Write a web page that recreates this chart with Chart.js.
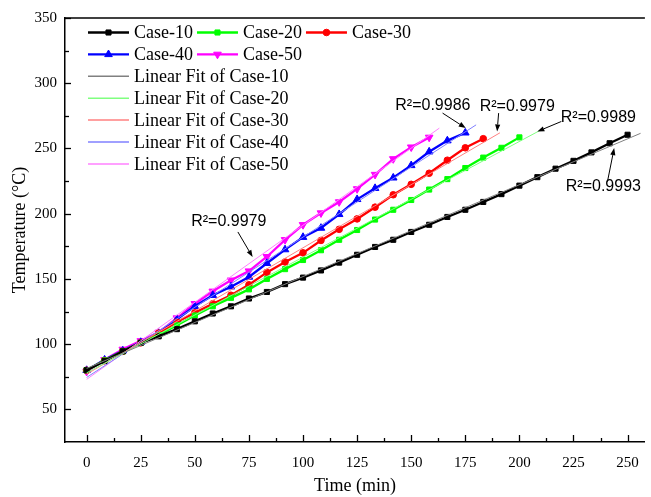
<!DOCTYPE html>
<html><head><meta charset="utf-8">
<script src="https://cdn.jsdelivr.net/npm/chart.js@4.4.1/dist/chart.umd.min.js"></script>
<style>html,body{margin:0;padding:0;background:#fff;overflow:hidden}#wrap{width:651px;height:497px;position:relative}</style>
</head><body><div id="wrap"><canvas id="c" width="651" height="497"></canvas></div>
<script>
// ---- data ----
const times = [0, 8.3, 16.7, 25, 33.3, 41.7, 50, 58.3, 66.7, 75, 83.3, 91.7, 100, 108.3, 116.7, 125, 133.3, 141.7, 150, 158.3, 166.7, 175, 183.3, 191.7, 200, 208.3, 216.7, 225, 233.3, 241.7, 250];
const case10 = [80, 87, 94.5, 101, 106, 111.5, 117.5, 123.5, 129, 135, 140, 146, 151, 156.5, 162.5, 168.5, 174.5, 180, 186, 191.5, 197.5, 203, 209, 215, 221.5, 228, 234.5, 240.5, 247, 254, 260.5];
const case20 = [80, 87.5, 94.5, 101, 107, 114.5, 122, 129, 135.5, 142, 150, 157.5, 164.5, 172, 180, 187.5, 195.5, 203, 210.5, 218.5, 226.5, 235, 243, 250.5, 258.5];
const case30 = [80, 87.5, 94.5, 101, 108.5, 117, 124, 131, 137.5, 145.5, 155, 163, 170, 179.5, 188, 196, 205, 214.5, 222.5, 231, 241, 250.5, 257.5];
const case40 = [80, 88, 95, 101.5, 108.5, 119, 129, 137.5, 144, 151.5, 162, 172.5, 182, 189, 199.5, 211, 219.5, 227.5, 237, 247.5, 256, 262];
const case50 = [79, 88, 96, 102.5, 109, 120, 131, 140.5, 149, 156, 167, 180, 191.5, 200.5, 209, 219, 230, 242, 251, 258.5];
const seriesNames = ['Case-10', 'Case-20', 'Case-30', 'Case-40', 'Case-50'];
const fitNames = ['Linear Fit of Case-10', 'Linear Fit of Case-20', 'Linear Fit of Case-30', 'Linear Fit of Case-40', 'Linear Fit of Case-50'];
const fitStartTime = [0, 0, 0, 0, 0];
const fitStartTemp = [81.4, 78, 77, 74.5, 73];
const fitEndTime = [256, 209.5, 191, 180, 163];
const fitEndTemp = [261.6, 263.8, 262, 268.1, 265.6];
const r2Labels = ['R²=0.9979', 'R²=0.9986', 'R²=0.9979', 'R²=0.9989', 'R²=0.9993'];
const xTickLabels = [0, 25, 50, 75, 100, 125, 150, 175, 200, 225, 250];
const yTickLabels = [50, 100, 150, 200, 250, 300, 350];

// ---- annotation placement (data coordinates) ----
const annotationPos = [
  {tx: 65.7, ty: 193.7, from: [69.9, 186], tip: [76.7, 166.8]},
  {tx: 160, ty: 282.8, from: [164.5, 277.1], tip: [175.2, 265.6]},
  {tx: 199, ty: 282, from: [190.4, 277.1], tip: [189.7, 263]},
  {tx: 236.5, ty: 273.4, from: [219.4, 270.7], tip: [208.3, 263]},
  {tx: 238.8, ty: 220.5, from: [240.7, 224.6], tip: [243.8, 250.3]}
];

// ---- styles ----
const colors = ['#000000', '#00ff00', '#ff0000', '#0000ff', '#ff00ff'];
const fitColors = ['#808080', '#80ff80', '#ff8080', '#8080ff', '#ff80ff'];
const markers = [
  {ps: 'rect', r: 3.6, rot: 0},
  {ps: 'rect', r: 3.6, rot: 0},
  {ps: 'circle', r: 3.3, rot: 0},
  {ps: 'triangle', r: 4.4, rot: 0},
  {ps: 'triangle', r: 4.4, rot: 180}
];
const seriesValues = [case10, case20, case30, case40, case50];
const SERIF = '"Liberation Serif", "Times New Roman", serif';
const SANS = '"Liberation Sans", Arial, sans-serif';

const datasets = [];
seriesValues.forEach((vals, i) => {
  datasets.push({
    label: seriesNames[i],
    data: vals.map((v, j) => ({x: times[j], y: v})),
    borderColor: colors[i], backgroundColor: colors[i],
    borderWidth: 2.3, pointStyle: markers[i].ps, pointRadius: markers[i].r,
    pointRotation: markers[i].rot, pointBorderWidth: 1,
    pointBorderColor: colors[i], pointBackgroundColor: colors[i],
    order: 1, tension: 0
  });
});
fitNames.forEach((n, i) => {
  datasets.push({
    label: n,
    data: [{x: fitStartTime[i], y: fitStartTemp[i]}, {x: fitEndTime[i], y: fitEndTemp[i]}],
    borderColor: fitColors[i], backgroundColor: fitColors[i],
    borderWidth: 1, pointRadius: 0, order: 0
  });
});

function drawMarker(ctx, m, color, cx, cy) {
  ctx.save();
  ctx.fillStyle = color; ctx.strokeStyle = color; ctx.lineWidth = 1;
  if (Chart.helpers && Chart.helpers.drawPoint) {
    Chart.helpers.drawPoint(ctx, {pointStyle: m.ps, rotation: m.rot, radius: m.r, borderWidth: 1}, cx, cy);
  }
  ctx.restore();
}

const decorPlugin = {
  id: 'decor',
  afterDraw(chart) {
    const {ctx, chartArea: a, scales: {x, y}} = chart;
    ctx.save();
    // top frame line
    ctx.strokeStyle = '#000';
    ctx.lineWidth = 1.5;
    ctx.beginPath(); ctx.moveTo(a.left, a.top); ctx.lineTo(a.right, a.top); ctx.stroke();
    // inward ticks on x axis
    ctx.lineWidth = 1.3;
    const xs = [];
    xTickLabels.forEach((v, i) => {
      xs.push([v, 7]);
      if (i < xTickLabels.length - 1) xs.push([(v + xTickLabels[i + 1]) / 2, 4]);
    });
    xs.forEach(([v, len]) => {
      const px = Math.round(x.getPixelForValue(v)) + 0.5;
      ctx.beginPath(); ctx.moveTo(px, a.bottom); ctx.lineTo(px, a.bottom - len); ctx.stroke();
    });
    const ys = [];
    yTickLabels.forEach((v, i) => {
      ys.push([v, 6]);
      if (i < yTickLabels.length - 1) ys.push([(v + yTickLabels[i + 1]) / 2, 4]);
    });
    ys.forEach(([v, len]) => {
      const py = Math.round(y.getPixelForValue(v)) + 0.5;
      ctx.beginPath(); ctx.moveTo(a.left, py); ctx.lineTo(a.left + len, py); ctx.stroke();
    });

    // legend
    ctx.font = '18px ' + SERIF;
    ctx.textBaseline = 'middle';
    ctx.fillStyle = '#000';
    const lx0 = 88, sampleW = 41, gapT = 5, gapE = 4, rowH = 21.9, ry0 = 32.5;
    const rows = [[0, 1, 2], [3, 4]];
    rows.forEach((row, r) => {
      let lx = lx0;
      const ry = ry0 + r * rowH;
      row.forEach(i => {
        ctx.strokeStyle = colors[i]; ctx.lineWidth = 2.3;
        ctx.beginPath(); ctx.moveTo(lx, ry); ctx.lineTo(lx + sampleW, ry); ctx.stroke();
        drawMarker(ctx, markers[i], colors[i], lx + sampleW / 2, ry);
        ctx.fillStyle = '#000';
        ctx.fillText(seriesNames[i], lx + sampleW + gapT, ry + 1);
        lx += sampleW + gapT + ctx.measureText(seriesNames[i]).width + gapE;
      });
    });
    fitNames.forEach((n, i) => {
      const ry = ry0 + (i + 2) * rowH;
      ctx.strokeStyle = fitColors[i]; ctx.lineWidth = 1.5;
      ctx.beginPath(); ctx.moveTo(lx0, ry); ctx.lineTo(lx0 + sampleW, ry); ctx.stroke();
      ctx.fillStyle = '#000';
      ctx.fillText(n, lx0 + sampleW + gapT, ry + 1);
    });

    // R² annotations with arrows
    ctx.font = '16px ' + SANS;
    ctx.textAlign = 'center';
    ctx.textBaseline = 'middle';
    annotationPos.forEach((p, i) => {
      ctx.fillStyle = '#000';
      ctx.fillText(r2Labels[i], x.getPixelForValue(p.tx), y.getPixelForValue(p.ty));
      const x1 = x.getPixelForValue(p.from[0]), y1 = y.getPixelForValue(p.from[1]);
      const x2 = x.getPixelForValue(p.tip[0]), y2 = y.getPixelForValue(p.tip[1]);
      const ang = Math.atan2(y2 - y1, x2 - x1);
      const hl = 7, hw = 2.6;
      const bx = x2 - hl * Math.cos(ang), by = y2 - hl * Math.sin(ang);
      ctx.strokeStyle = '#000'; ctx.lineWidth = 1;
      ctx.beginPath(); ctx.moveTo(x1, y1); ctx.lineTo(bx, by); ctx.stroke();
      ctx.beginPath();
      ctx.moveTo(x2, y2);
      ctx.lineTo(bx + hw * Math.sin(ang), by - hw * Math.cos(ang));
      ctx.lineTo(bx - hw * Math.sin(ang), by + hw * Math.cos(ang));
      ctx.closePath(); ctx.fill();
    });
    ctx.restore();
  }
};

new Chart(document.getElementById('c'), {
  type: 'line',
  data: {datasets},
  plugins: [decorPlugin],
  options: {
    responsive: false, animation: false, devicePixelRatio: 1,
    layout: {padding: {top: 18, right: 0, bottom: 0, left: 0}},
    plugins: {legend: {display: false}, tooltip: {enabled: false}, title: {display: false}},
    scales: {
      x: {
        type: 'linear', min: -10, max: 258,
        afterBuildTicks: s => { s.ticks = xTickLabels.map(v => ({value: v})); },
        afterFit: s => { s.height = 55; },
        grid: {display: false, drawTicks: false},
        border: {display: true, color: '#000', width: 1.5},
        ticks: {color: '#000', font: {family: SERIF, size: 15}, padding: 12, maxRotation: 0, autoSkip: false},
        title: {display: true, text: 'Time (min)', color: '#000', font: {family: SERIF, size: 18}, padding: {top: 0, bottom: 0}}
      },
      y: {
        type: 'linear', min: 25, max: 350,
        afterBuildTicks: s => { s.ticks = yTickLabels.map(v => ({value: v})); },
        afterFit: s => { s.width = 65; },
        grid: {display: false, drawTicks: false},
        border: {display: true, color: '#000', width: 1.5},
        ticks: {color: '#000', font: {family: SERIF, size: 15}, padding: 8, autoSkip: false},
        title: {display: true, text: 'Temperature (°C)', color: '#000', font: {family: SERIF, size: 18}, padding: {top: 9, bottom: 0}}
      }
    }
  }
});
</script>
</body></html>
